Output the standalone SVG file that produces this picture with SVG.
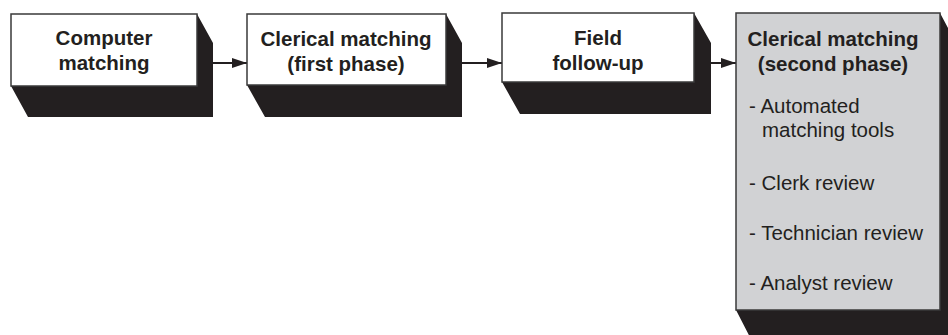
<svg xmlns="http://www.w3.org/2000/svg" width="948" height="335" viewBox="0 0 948 335">
<defs>
<style>
.shadow{fill:#231f20;}
.front{fill:#ffffff;stroke:#3a3a3a;stroke-width:1.5;}
.front.gray{fill:#d1d2d4;}
.title{font-family:"Liberation Sans",Arial,sans-serif;font-weight:bold;font-size:20.5px;fill:#231f20;text-anchor:middle;}
.item{font-family:"Liberation Sans",Arial,sans-serif;font-size:20.5px;fill:#231f20;}
.conn{stroke:#231f20;stroke-width:2;fill:none;}
</style>
<marker id="arrow" markerUnits="userSpaceOnUse" markerWidth="15" markerHeight="10" refX="15" refY="5" orient="auto">
<path d="M0,0 L15,5 L0,10 Z" fill="#231f20"/>
</marker>
</defs>
<rect width="948" height="335" fill="#ffffff"/>
<g id="connectors">
<line class="conn" x1="213" y1="63" x2="247" y2="63" marker-end="url(#arrow)"/>
<line class="conn" x1="462" y1="63" x2="502" y2="63" marker-end="url(#arrow)"/>
<line class="conn" x1="711" y1="63" x2="736" y2="63" marker-end="url(#arrow)"/>
</g>
<g id="node1">
<polygon class="shadow" points="197,14 213,43 213,117 28,117 11,86 197,86"/>
<rect class="front" x="11" y="14" width="186" height="72"/>
<text class="title" x="104" y="45">Computer</text>
<text class="title" x="104" y="70">matching</text>
</g>
<g id="node2">
<polygon class="shadow" points="446,14 462,43 462,117 265,117 247,85 446,85"/>
<rect class="front" x="247" y="14" width="199" height="71"/>
<text class="title" x="346" y="46">Clerical matching</text>
<text class="title" x="346" y="71">(first phase)</text>
</g>
<g id="node3">
<polygon class="shadow" points="694,13 711,43 711,114 520,114 502,82 694,82"/>
<rect class="front" x="502" y="13" width="192" height="69"/>
<text class="title" x="598" y="45">Field</text>
<text class="title" x="598" y="70">follow-up</text>
</g>
<g id="node4">
<polygon class="shadow" points="940,13 956,43 956,345 754,345 736,310 940,310"/>
<rect class="front gray" x="736" y="13" width="204" height="297"/>
<text class="title" x="833" y="46">Clerical matching</text>
<text class="title" x="833" y="71">(second phase)</text>
<text class="item" x="749" y="113">- Automated</text>
<text class="item" x="762" y="137">matching tools</text>
<text class="item" x="749" y="190">- Clerk review</text>
<text class="item" x="749" y="240">- Technician review</text>
<text class="item" x="749" y="290">- Analyst review</text>
</g>
</svg>
